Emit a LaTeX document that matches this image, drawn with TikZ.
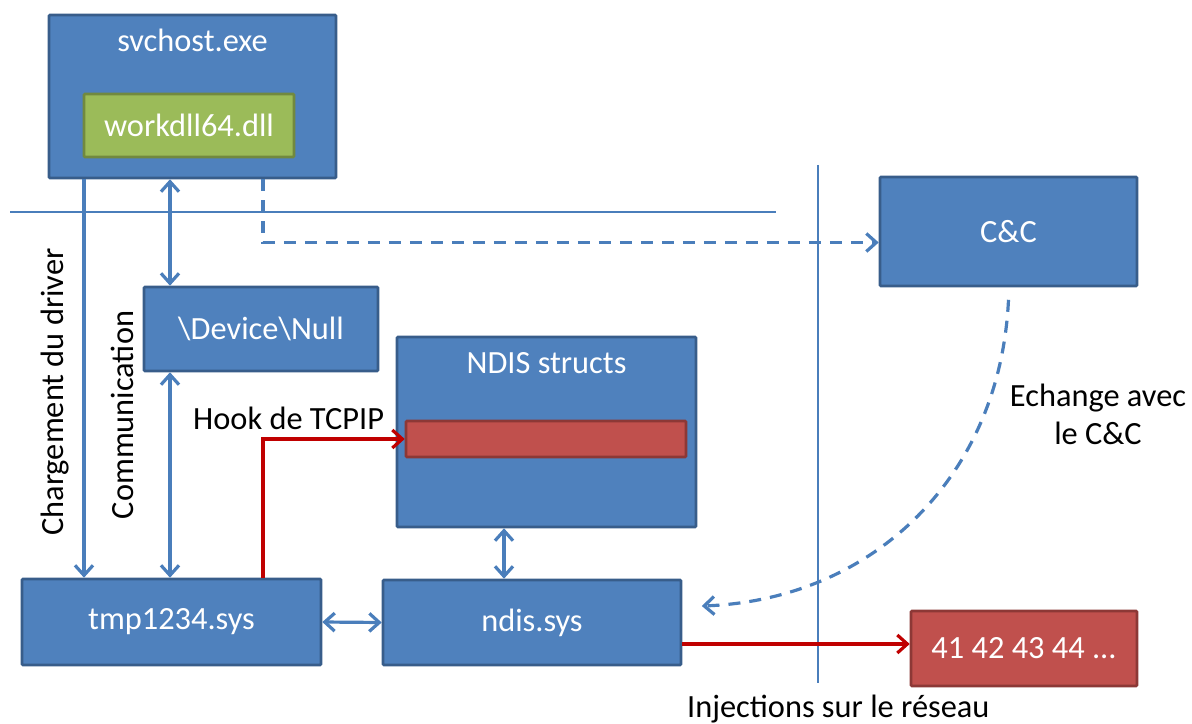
\documentclass[tikz,border=0pt]{standalone}
\usepackage{fontspec}
\setmainfont{Carlito}
\usetikzlibrary{arrows.meta,calc}

\definecolor{boxblue}{HTML}{4F81BD}
\definecolor{boxedge}{HTML}{385D8A}
\definecolor{dllgreen}{HTML}{9BBB59}
\definecolor{dlledge}{HTML}{71893F}
\definecolor{hookred}{HTML}{C0504D}
\definecolor{hookedge}{HTML}{8C3836}
\definecolor{linkblue}{HTML}{4A7EBB}
\definecolor{wirered}{HTML}{C00000}

\tikzset{
  blk/.style={draw=boxedge, fill=boxblue, line width=2.6bp, text=white,
    inner sep=0pt, rounded corners=1bp},
  dllbox/.style={draw=dlledge, fill=dllgreen, line width=2.6bp, text=white,
    inner sep=0pt, rounded corners=1bp},
  redbox/.style={draw=hookedge, fill=hookred, line width=2.6bp, text=white,
    inner sep=0pt, rounded corners=1bp},
  boxtitle/.style={text=white, inner sep=0pt, anchor=base},
  caption/.style={text=black, inner sep=0pt},
  link/.style={draw=linkblue, line width=3.2bp},
  wire/.style={draw=wirered, line width=3.2bp},
  dashlink/.style={link, dash pattern=on 12bp off 9bp},
  divider/.style={draw=linkblue, line width=1.2bp},
}

\begin{document}
\begin{tikzpicture}[x=1bp, y=-1bp, font=\fontsize{32.5}{39}\selectfont,
  >={Straight Barb[length=10bp,width=18bp]}]
\useasboundingbox (0,0) rectangle (1192,724);

% separators between user space, kernel and network
\coordinate (hl) at (10,212);
\coordinate (hr) at (776,212);
\coordinate (vt) at (818,165);
\coordinate (vb) at (818,683);
\draw[divider] (hl) -- (hr);
\draw[divider] (vt) -- (vb);

% boxes
\node[blk, minimum width=287bp, minimum height=163bp] (svc) at (192.5,96.5) {};
\node[boxtitle] (svct) at (192.5,52) {svchost.exe};
\node[dllbox, minimum width=210bp, minimum height=63bp] (dll) at (189,125.5) {workdll64.dll};

\node[blk, minimum width=257bp, minimum height=109bp] (cc) at (1008.5,231.5) {C\&C};

\node[blk, minimum width=234bp, minimum height=84bp] (dev) at (261,329) {\textbackslash Device\textbackslash Null};

\node[blk, minimum width=299bp, minimum height=190bp] (nst) at (546.5,432) {};
\node[boxtitle] (nstt) at (546.5,373) {NDIS structs};
\node[redbox, minimum width=280bp, minimum height=36bp] (bar) at (546,439) {};

\node[blk, minimum width=299bp, minimum height=86bp] (tmp) at (171.5,622) {tmp1234.sys};
\node[blk, minimum width=298bp, minimum height=85bp] (ndis) at (532,622.5) {ndis.sys};

\node[redbox, minimum width=226bp, minimum height=75bp] (inj) at (1024,648.5) {41 42 43 44 ...};

% captions
\node[caption, rotate=90, anchor=base] (chg) at (63,392) {Chargement du driver};
\node[caption, rotate=90, anchor=base] (com) at (133,415) {Communication};
\node[caption, anchor=base west] (hook) at (193,429) {Hook de TCPIP};
\node[caption, anchor=base] (ech1) at (1098,406) {Echange avec};
\node[caption, anchor=base] (ech2) at (1098,444) {le C\&C};
\node[caption, anchor=base west] (injt) at (687,717) {Injections sur le réseau};

% connector columns / rows
\coordinate (xload) at (84,0);
\coordinate (xcom) at (170,0);
\coordinate (xhook) at (263,0);
\coordinate (xnd) at (504,0);
\coordinate (yinj) at (0,644);

% driver loading
\draw[link,->] (svc.south -| xload) -- (tmp.north -| xload);
% communication through \Device\Null
\draw[link,<->] (svc.south -| xcom) -- (dev.north -| xcom);
\draw[link,<->] (dev.south -| xcom) -- (tmp.north -| xcom);
% driver <-> ndis
\draw[link,<->] (tmp.east) -- (ndis.west);
\draw[link,<->] (nst.south -| xnd) -- (ndis.north -| xnd);
% TCPIP hook
\draw[wire,->] (tmp.north -| xhook) |- (bar.west);
% packet injection
\draw[wire,->] (ndis.east |- yinj) -- (inj.west |- yinj);
% C&C traffic
\draw[dashlink,->] ([xshift=70.5bp]svc.south) |- ([yshift=-11bp]cc.west);
\draw[dashlink,->] ([yshift=-12.5bp]cc.south)
  .. controls (1000,480) and (870,600) .. ([xshift=19.5bp,yshift=16.5bp]ndis.east);
\end{tikzpicture}
\end{document}
